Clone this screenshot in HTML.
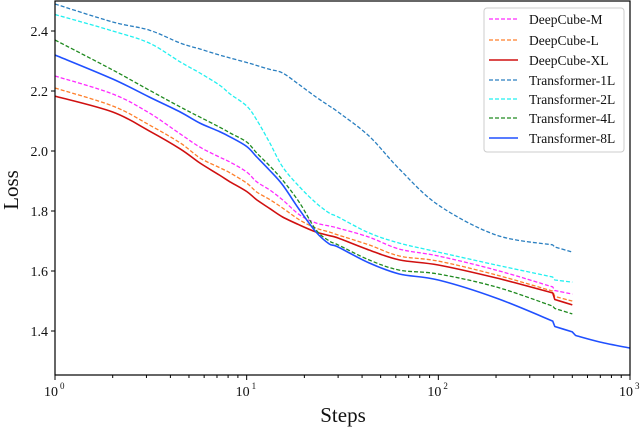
<!DOCTYPE html>
<html><head><meta charset="utf-8"><style>
body{margin:0;background:#fff}
svg text{font-family:"Liberation Serif",serif;fill:#111}
</style></head><body>
<svg id="c" width="640" height="431" viewBox="0 0 640 431" xmlns="http://www.w3.org/2000/svg">
<g id="marks"></g>
<g id="axes"></g>
</svg>
<script>
const steps=[1,2,3.1,4.5,5.7,7.2,8.2,10,11.3,13.2,15.4,18.9,23,27,30,43.5,62.6,100,200,395,405,500];
const stepsLong=[1,2,3.1,4.5,5.7,7.2,8.2,10,11.3,13.2,15.4,18.9,23,27,30,43.5,62.6,100,200,395,405,500,520,700,1000];
const deepcubeM=[2.25,2.19,2.127,2.057,2.013,1.98,1.963,1.93,1.897,1.87,1.837,1.787,1.76,1.75,1.743,1.713,1.673,1.65,1.603,1.547,1.535,1.523];
const deepcubeL=[2.21,2.15,2.087,2.027,1.977,1.945,1.927,1.893,1.863,1.838,1.81,1.77,1.743,1.73,1.72,1.687,1.65,1.633,1.587,1.533,1.515,1.50];
const deepcubeXL=[2.183,2.13,2.067,2.007,1.96,1.92,1.897,1.865,1.837,1.808,1.78,1.753,1.73,1.718,1.71,1.67,1.637,1.62,1.577,1.527,1.505,1.487];
const trans1L=[2.49,2.43,2.403,2.36,2.34,2.32,2.31,2.295,2.285,2.272,2.26,2.22,2.18,2.15,2.13,2.05,1.94,1.82,1.72,1.687,1.68,1.663];
const trans2L=[2.455,2.40,2.36,2.297,2.26,2.22,2.19,2.15,2.103,2.027,1.947,1.88,1.827,1.793,1.78,1.727,1.693,1.663,1.62,1.58,1.57,1.563];
const trans4L=[2.37,2.27,2.203,2.147,2.113,2.08,2.06,2.03,1.993,1.95,1.903,1.827,1.737,1.70,1.687,1.637,1.603,1.59,1.547,1.483,1.475,1.457];
const trans8L=[2.32,2.24,2.18,2.13,2.093,2.065,2.047,2.015,1.98,1.935,1.887,1.803,1.73,1.69,1.68,1.627,1.59,1.57,1.51,1.433,1.415,1.397,1.385,1.363,1.343];
const seriesNames=["DeepCube-M","DeepCube-L","DeepCube-XL","Transformer-1L","Transformer-2L","Transformer-4L","Transformer-8L"];
const yTicks=[1.4,1.6,1.8,2.0,2.2,2.4];
const xTickExps=[0,1,2,3];

const L=55,R=630,T=1,B=375;
const X=s=>L+(R-L)*Math.log10(s)/3;
const Y=v=>31+(2.4-v)*300;
const NS="http://www.w3.org/2000/svg";
function mk(tag,attrs,parent){const e=document.createElementNS(NS,tag);for(const k in attrs)e.setAttribute(k,attrs[k]);parent.appendChild(e);return e;}
function smooth(pts){
 let d='M'+pts[0][0].toFixed(1)+','+pts[0][1].toFixed(1);
 const n=pts.length;
 for(let i=0;i<n-1;i++){
  const p1=pts[i],p2=pts[i+1];
  if(p2[0]-p1[0]<6){d+='L'+p2[0].toFixed(1)+','+p2[1].toFixed(1);continue;}
  let p0=pts[Math.max(0,i-1)],p3=pts[Math.min(n-1,i+2)];
  if(p1[0]-p0[0]<6)p0=p1;
  if(p3[0]-p2[0]<6)p3=p2;
  const k=1/6;
  const c1=[p1[0]+(p2[0]-p0[0])*k,p1[1]+(p2[1]-p0[1])*k];
  const c2=[p2[0]-(p3[0]-p1[0])*k,p2[1]-(p3[1]-p1[1])*k];
  d+='C'+c1[0].toFixed(1)+','+c1[1].toFixed(1)+' '+c2[0].toFixed(1)+','+c2[1].toFixed(1)+' '+p2[0].toFixed(1)+','+p2[1].toFixed(1);
 }
 return d;
}
const marks=document.getElementById('marks'),axes=document.getElementById('axes');
const defs=[
 [steps,deepcubeM,'#ff2bff','4,2',1.3],
 [steps,deepcubeL,'#ff7f2a','4,2',1.3],
 [steps,deepcubeXL,'#d01010','',1.6],
 [steps,trans1L,'#2a7fc0','4,2',1.3],
 [steps,trans2L,'#22f0f0','4,2',1.3],
 [steps,trans4L,'#208a20','4,2',1.3],
 [stepsLong,trans8L,'#2050ff','',1.6]];
const slugs=['deepcube-m','deepcube-l','deepcube-xl','transformer-1l','transformer-2l','transformer-4l','transformer-8l'];
defs.forEach((d,i)=>{
 const pts=d[0].map((s,j)=>[X(s),Y(d[1][j])]);
 const e=mk('path',{d:smooth(pts),fill:'none',stroke:d[2],'stroke-width':d[4],'stroke-dasharray':d[3],'stroke-linejoin':'round'},marks);
 
 
});
const fr=mk('rect',{x:L,y:T,width:R-L,height:B-T,fill:'none',stroke:'#000','stroke-width':1.2},axes);


yTicks.forEach(v=>{
 mk('line',{x1:L-4,x2:L,y1:Y(v),y2:Y(v),stroke:'#000'},axes);
 const t=mk('text',{x:L-7,y:Y(v)+5,'text-anchor':'end','font-size':14},axes);
 t.textContent=v.toFixed(1);
 
 
});
xTickExps.forEach(e=>{
 const x=X(Math.pow(10,e));
 mk('line',{x1:x,x2:x,y1:B,y2:B+5,stroke:'#000'},axes);
 const t=mk('text',{x:x-4,y:B+21,'text-anchor':'middle','font-size':14},axes);
 t.textContent='10';
 
 
 const s=mk('text',{x:x+5,y:B+14,'font-size':9},axes);
 s.textContent=String(e);
 if(e<3)for(let m=2;m<10;m++){const xm=X(m*Math.pow(10,e));mk('line',{x1:xm,x2:xm,y1:B,y2:B+3,stroke:'#000'},axes);}
});
let t=mk('text',{x:343,y:422,'text-anchor':'middle','font-size':21},axes);t.textContent='Steps';


t=mk('text',{x:0,y:0,'text-anchor':'middle','font-size':21,transform:'translate(18,190) rotate(-90)'},axes);t.textContent='Loss';


const lg=mk('g',{},axes);


mk('rect',{x:484,y:8,width:140,height:144,rx:3,fill:'#fff',stroke:'#ccc'},lg);
const ly=[19,40,60,80,99,118,138];
seriesNames.forEach((n,i)=>{
 const g=mk('g',{},lg);
 
 
 mk('line',{x1:489,x2:518,y1:ly[i],y2:ly[i],stroke:defs[i][2],'stroke-width':defs[i][4],'stroke-dasharray':defs[i][3]},g);
 const tt=mk('text',{x:529,y:ly[i]+5,'font-size':13.5},g);tt.textContent=n;
});
</script>
</body></html>
